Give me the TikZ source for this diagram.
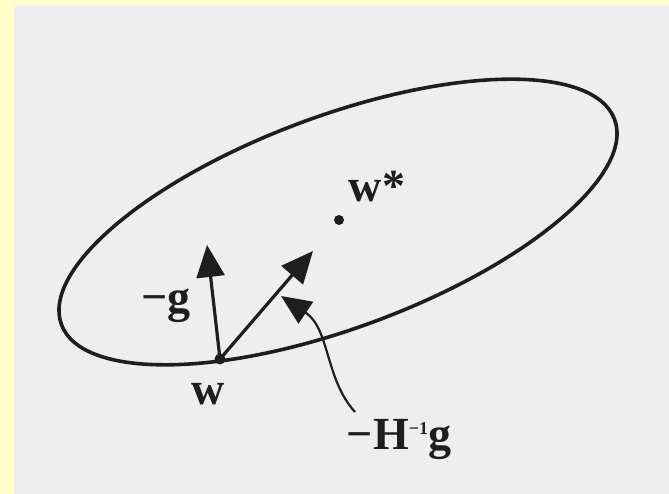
\documentclass[tikz,border=0pt]{standalone}
\usepackage{fontspec}
\setmainfont{Liberation Serif}
\usetikzlibrary{arrows.meta}
\definecolor{bgyellow}{RGB}{255,255,204}
\definecolor{panelgray}{RGB}{238,238,238}
\definecolor{ink}{RGB}{30,30,30}
\tikzset{
  curveline/.style={draw=ink, line width=3.6pt},
  vecarrow/.style={draw=ink, line width=3.2pt, -{Triangle[length=32pt,width=28pt]}},
  callout/.style={draw=ink, line width=2.2pt, -{Triangle[length=30pt,width=26pt]}},
  lbl/.style={text=ink, inner sep=0pt, anchor=base, font=\bfseries\fontsize{46}{52}\selectfont},
  ptdot/.style={fill=ink, circle, inner sep=0pt}
}
\begin{document}
\begin{tikzpicture}[x=1pt,y=1pt]
\useasboundingbox (0,0) rectangle (669,494);
\fill[bgyellow] (0,0) rectangle (669,494);
\fill[panelgray] (14,0) rectangle (669,489);
% ellipse (contour)
\draw[curveline, rotate around={20.35:(338,272)}] (338,272) ellipse [x radius=295, y radius=106];
% points
\coordinate (w) at (220,135);
\node[ptdot, minimum size=11pt] (wdot) at (w) {};
\node[ptdot, minimum size=10pt] (wstar) at (339,274) {};
% arrow tips
\coordinate (gtip) at (207,249);
\coordinate (htip) at (313,243);
\coordinate (cstart) at (355,82);
\coordinate (ctip) at (281,198);
\draw[vecarrow] (w) -- (gtip);
\draw[vecarrow] (w) -- (htip);
\draw[callout] (cstart) .. controls (325,115) and (330,165) .. (ctip);
% labels
\node[lbl] (lw) at (208,89) {w};
\node[lbl] (lws) at (377,292) {w*};
\node[lbl] (lg) at (166,181) {−g};
\node[lbl] (lh) at (399,44) {−H\raisebox{15pt}{\fontsize{18}{18}\selectfont −1}g};
\end{tikzpicture}
\end{document}
